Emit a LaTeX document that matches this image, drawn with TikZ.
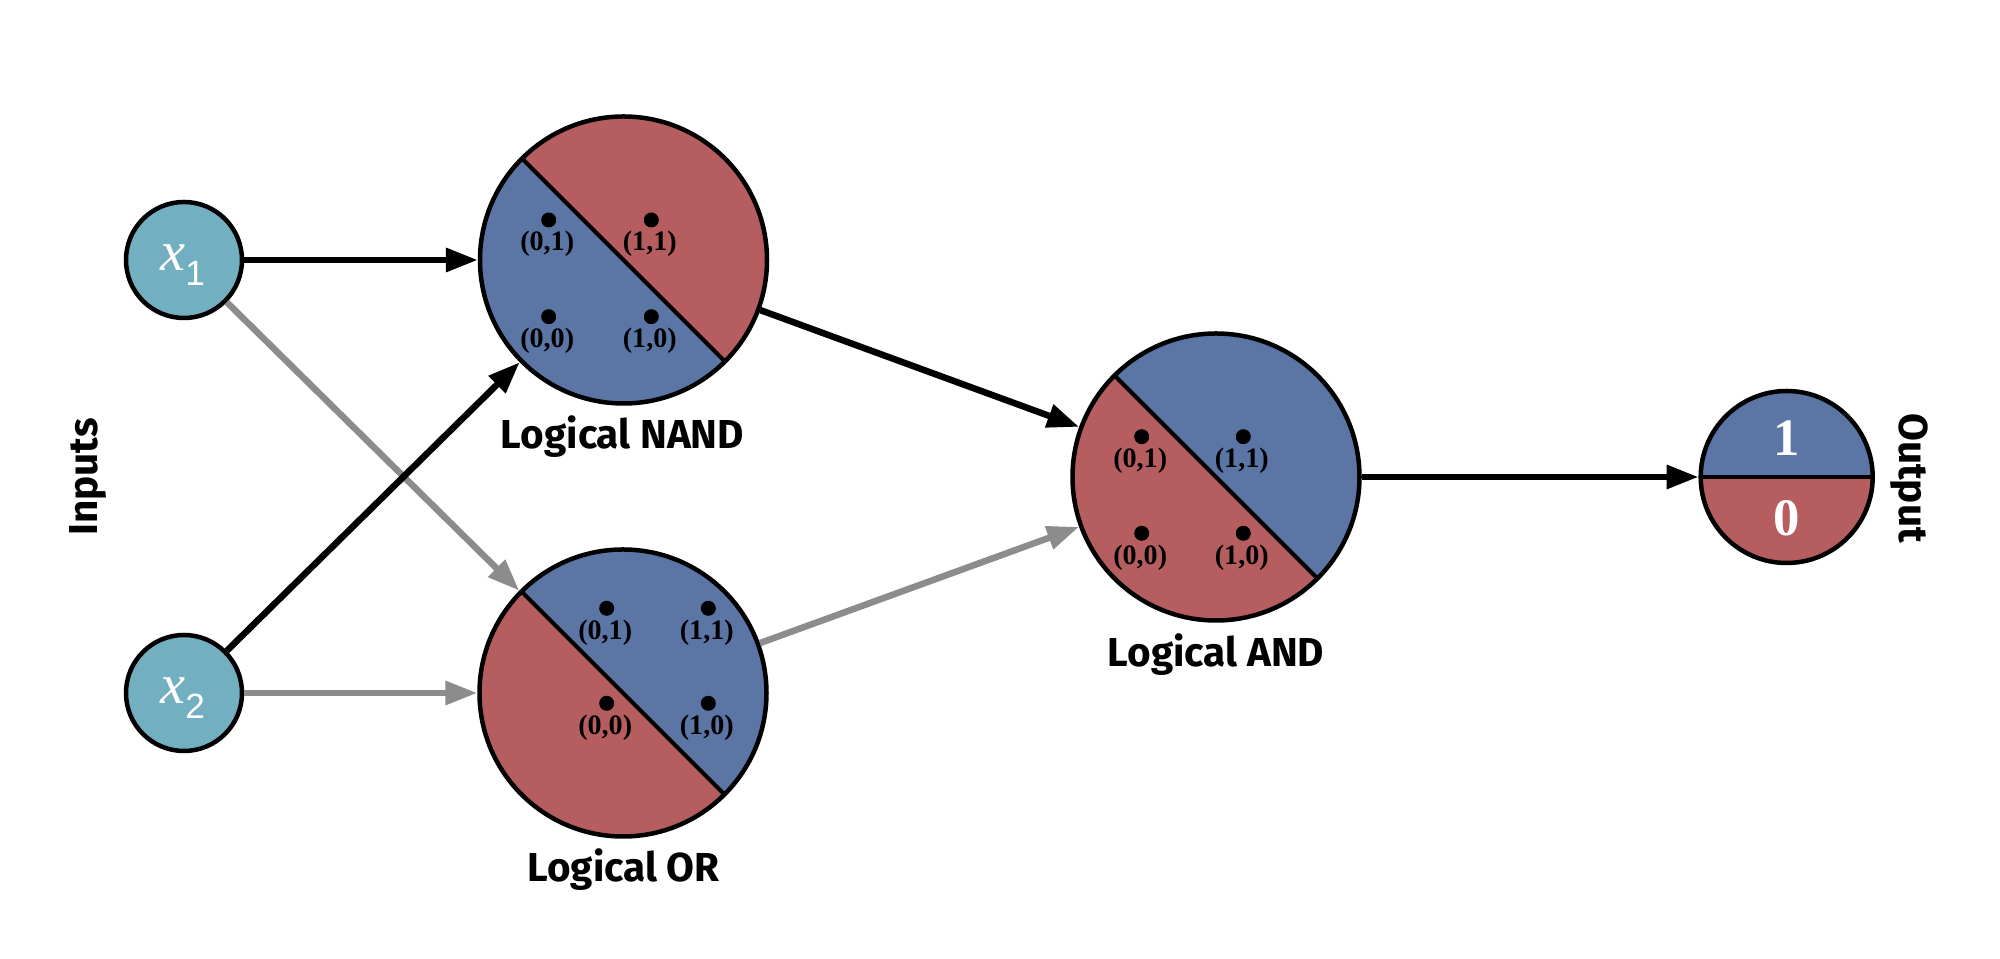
\documentclass[tikz,border=0pt]{standalone}
\usepackage{fontspec}
\setmainfont{Liberation Serif}
\setsansfont{Liberation Sans}
\newfontfamily\headfont{Fira Sans}
\usetikzlibrary{arrows.meta}

\definecolor{c72afc1}{RGB}{114,175,193}
\definecolor{c5b75a4}{RGB}{91,117,164}
\definecolor{cb55d5f}{RGB}{181,93,95}
\definecolor{c8c8c8c}{RGB}{140,140,140}
\def \globalscale {1.000000}

\begin{document}
\begin{tikzpicture}[y=1mm, x=1mm, yscale=\globalscale,xscale=\globalscale, every node/.append style={scale=\globalscale}, inner sep=0pt, outer sep=0pt,
  inputnode/.style={circle, draw=black, fill=c72afc1, line width=0.45mm, minimum size=11.6mm, outer sep=0.22mm},
  splitgate/.style 2 args={circle, draw=black, fill=#2, line width=0.45mm, minimum size=28.7mm, outer sep=0.22mm,
    path picture={
      \fill[#1] (path picture bounding box.north west) -- (path picture bounding box.south west)
        -- (path picture bounding box.south east) -- cycle;
      \draw[line width=0.42mm] (path picture bounding box.north west) -- (path picture bounding box.south east);}},
  splitout/.style={circle, draw=black, fill=cb55d5f, line width=0.45mm, minimum size=17.2mm, outer sep=0.22mm,
    path picture={
      \fill[c5b75a4] (path picture bounding box.west) rectangle (path picture bounding box.north east);
      \draw[line width=0.42mm] (path picture bounding box.west) -- (path picture bounding box.east);}},
  ptdot/.style={circle, fill=black, minimum size=1.5mm},
  ptlabel/.style={font=\bfseries\fontsize{8}{8}\selectfont, yshift=-2.4mm, xshift=-0.15mm},
  gatelabel/.style={font=\headfont\bfseries\fontsize{11.5}{12}\selectfont, anchor=base},
  sidelabel/.style={font=\headfont\bfseries\fontsize{11.5}{12}\selectfont},
  invar/.style={text=white},
  outdigit/.style={text=white, font=\bfseries\fontsize{15}{15}\selectfont},
  arrblack/.style={draw=black, line width=0.65mm, -{Triangle[length=3.2mm,width=2.3mm]}},
  arrgray/.style={arrblack, draw=c8c8c8c}]

  \useasboundingbox (0, 0) rectangle (200, 95.9);

  % inputs
  \node[inputnode] (x1) at (18.4, 69.9) {};
  \node[inputnode] (x2) at (18.4, 26.6) {};
  \node[invar] (textx1) at (18.26, 69.4){{\fontsize{16}{16}\selectfont\itshape x}\raisebox{-1.55mm}{\sffamily\fontsize{10}{10}\selectfont 1}};
  \node[invar] (textx2) at (18.26, 26.1){{\fontsize{16}{16}\selectfont\itshape x}\raisebox{-1.55mm}{\sffamily\fontsize{10}{10}\selectfont 2}};
  \node[sidelabel, rotate=90] (textinputs) at (8.75, 48.2){Inputs};

  % gates
  \node[splitgate={c5b75a4}{cb55d5f}] (nand) at (62.35, 69.9) {};
  \node[splitgate={cb55d5f}{c5b75a4}] (or) at (62.3, 26.6) {};
  \node[splitgate={cb55d5f}{c5b75a4}] (and) at (121.6, 48.2) {};
  \node[splitout] (out) at (178.67, 48.2) {};

  \node[gatelabel] (textnand) at (62.25, 51.0){Logical NAND};
  \node[gatelabel] (textor) at (62.35, 7.73){Logical OR};
  \node[gatelabel] (textand) at (121.6, 29.23){Logical AND};
  \node[sidelabel, rotate=-90] (textoutput) at (190.9, 48.1){Output};

  \node[outdigit] (textone) at (178.67, 52.07){1};
  \node[outdigit] (textzero) at (178.67, 44.07){0};

  % truth table points
  \node[ptdot] (nand01) at (54.87, 73.9) {};
  \node[ptdot] (nand11) at (65.13, 73.9) {};
  \node[ptdot] (nand00) at (54.87, 64.23) {};
  \node[ptdot] (nand10) at (65.13, 64.23) {};
  \node[ptlabel] (textnand01) at (nand01){(0,1)};
  \node[ptlabel] (textnand11) at (nand11){(1,1)};
  \node[ptlabel] (textnand00) at (nand00){(0,0)};
  \node[ptlabel] (textnand10) at (nand10){(1,0)};

  \node[ptdot] (or01) at (60.67, 35.07) {};
  \node[ptdot] (or11) at (70.83, 35.07) {};
  \node[ptdot] (or00) at (60.67, 25.57) {};
  \node[ptdot] (or10) at (70.83, 25.57) {};
  \node[ptlabel] (textor01) at (or01){(0,1)};
  \node[ptlabel] (textor11) at (or11){(1,1)};
  \node[ptlabel] (textor00) at (or00){(0,0)};
  \node[ptlabel] (textor10) at (or10){(1,0)};

  \node[ptdot] (and01) at (114.17, 52.23) {};
  \node[ptdot] (and11) at (124.33, 52.23) {};
  \node[ptdot] (and00) at (114.17, 42.57) {};
  \node[ptdot] (and10) at (124.33, 42.57) {};
  \node[ptlabel] (textand01) at (and01){(0,1)};
  \node[ptlabel] (textand11) at (and11){(1,1)};
  \node[ptlabel] (textand00) at (and00){(0,0)};
  \node[ptlabel] (textand10) at (and10){(1,0)};

  % connections
  \draw[arrgray] (x1) -- (or);
  \draw[arrgray] (x2) -- (or);
  \draw[arrgray] (or) -- (and);
  \draw[arrblack] (x1) -- (nand);
  \draw[arrblack] (x2) -- (nand);
  \draw[arrblack] (nand) -- (and);
  \draw[arrblack] (and) -- (out);

\end{tikzpicture}
\end{document}
